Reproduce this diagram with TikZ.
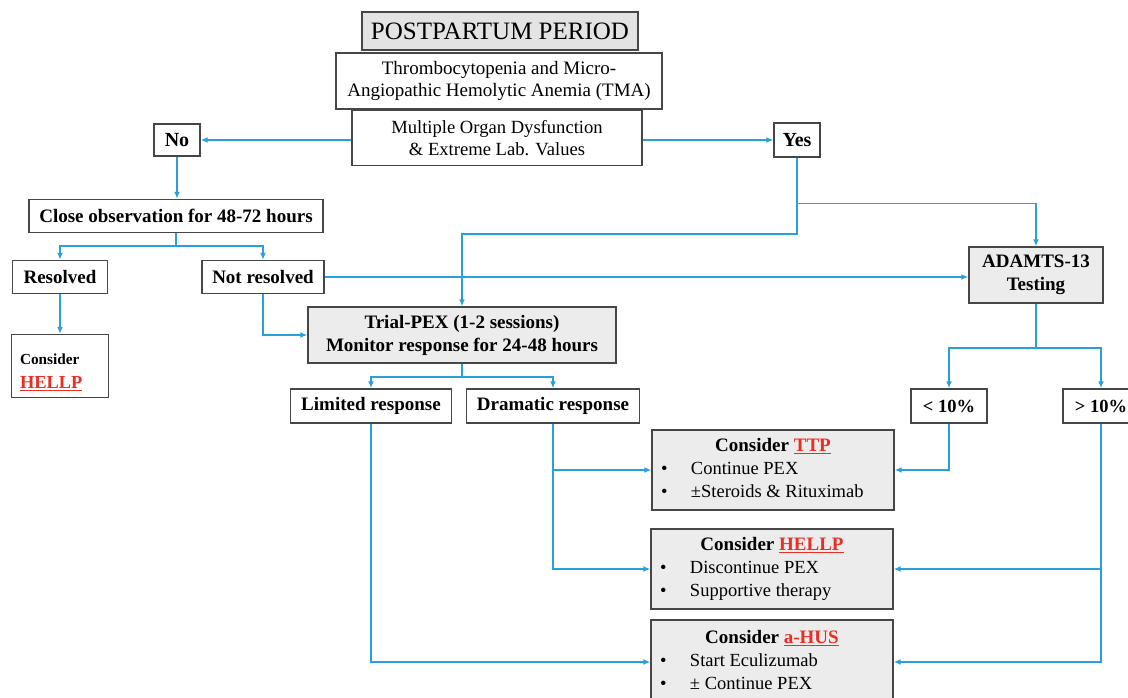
\documentclass[tikz,border=0pt]{standalone}
\usepackage{fontspec}
\setmainfont{Liberation Serif}
\usetikzlibrary{calc, arrows.meta}
\definecolor{flowblue}{RGB}{40,160,220}
\definecolor{hlred}{RGB}{235,45,35}
\definecolor{boxgray}{RGB}{236,236,236}
\definecolor{edgegray}{RGB}{70,70,70}
\newcommand{\redtag}[1]{\textcolor{hlred}{\underline{#1}}}
\newcommand{\consider}[3]{\begin{tabular}{@{}p{30pt}@{}p{194pt}@{}}
\multicolumn{2}{@{}c@{}}{\bfseries\fontsize{19}{23}\selectfont Consider \redtag{#1}}\\
\textbullet & #2\\
\textbullet & #3
\end{tabular}}
\tikzset{
  box/.style={draw=edgegray, line width=1.4pt, fill=white, inner sep=2pt, align=center, font=\fontsize{19}{23}\selectfont\bfseries},
  graybox/.style={box, fill=boxgray},
  outcome/.style={graybox, minimum width=242, minimum height=80, inner sep=0pt, font=\fontsize{18.5}{23}\selectfont},
  conn/.style={draw=flowblue, line width=1.6pt},
  arr/.style={conn, -{Latex[length=7pt,width=6pt]}}
}
\begin{document}
\begin{tikzpicture}[x=1pt,y=-1pt]
\useasboundingbox (0,0) rectangle (1128,698);
\clip (0,0) rectangle (1128,698);
\node[graybox, fill=gray!22, minimum width=276, minimum height=38, font=\fontsize{25}{28}\selectfont] (post) at (500,31) {POSTPARTUM PERIOD};
\node[box, minimum width=326, minimum height=56, font=\fontsize{19}{22.5}\selectfont] (tma) at (499,81) {Thrombocytopenia and Micro-\\Angiopathic Hemolytic Anemia (TMA)};
\node[box, minimum width=290, minimum height=55, font=\fontsize{18.6}{22}\selectfont] (mods) at (497,138) {Multiple Organ Dysfunction\\\& Extreme Lab. Values};
\node[box, minimum width=46, minimum height=32, font=\fontsize{20}{23}\selectfont\bfseries] (no) at (177,140) {No};
\node[box, minimum width=46, minimum height=34, font=\fontsize{20}{23}\selectfont\bfseries] (yes) at (797,140) {Yes};
\node[box, minimum width=294, minimum height=33] (close) at (176,216) {Close observation for 48-72 hours};
\node[box, minimum width=95, minimum height=33] (res) at (60,277) {Resolved};
\node[box, minimum width=122, minimum height=33] (nres) at (263,277) {Not resolved};
\node[box, minimum width=97, minimum height=63, align=left, text width=80, font=\fontsize{18.4}{24}\selectfont\bfseries] (hellpa) at (60,366) {\rule{0pt}{23pt}{\fontsize{15.3}{18}\selectfont Consider}\\\redtag{HELLP}};
\node[graybox, minimum width=308, minimum height=56] (pex) at (462,335) {Trial-PEX (1-2 sessions)\\Monitor response for 24-48 hours};
\node[box, minimum width=161, minimum height=34] (lim) at (371,406) {Limited response};
\node[box, minimum width=173, minimum height=34] (dram) at (553,406) {Dramatic response};
\node[graybox, minimum width=134, minimum height=56] (adamts) at (1036,275) {ADAMTS-13\\Testing};
\node[box, minimum width=76, minimum height=34, font=\fontsize{18.5}{22}\selectfont\bfseries] (low) at (949,406) {< 10\%};
\node[box, minimum width=76, minimum height=34, font=\fontsize{18.5}{22}\selectfont\bfseries] (high) at (1101,406) {> 10\%};
\node[outcome] (ttp) at (773,470) {\consider{TTP}{Continue PEX}{\textpm Steroids \& Rituximab}};
\node[outcome] (hellpb) at (772,569) {\consider{HELLP}{Discontinue PEX}{Supportive therapy}};
\node[outcome, minimum height=84] (ahus) at (772,662) {\consider{a-HUS}{Start Eculizumab}{\textpm\ Continue PEX}};
\draw[arr] (mods.west |- no.east) -- (no.east);
\draw[arr] (mods.east |- yes.west) -- (yes.west);
\draw[arr] (no.south) -- (no.south |- close.north);
\draw[conn] (close.south) -- ++(0,13) coordinate (c1);
\draw[arr] (c1) -| (res.north);
\draw[arr] (c1) -| (nres.north);
\draw[arr] (res.south) -- (res.south |- hellpa.north);
\draw[arr] (nres.south) |- (pex.west);
\draw[arr] (nres.east) -- (nres.east -| adamts.west);
\draw[conn] (yes.south) -- ++(0,46) coordinate (y1);
\draw[arr] (y1) -| (adamts.north);
\draw[arr] (y1) -- ++(0,30) -| (pex.north);
\draw[conn] (pex.south) -- ++(0,13) coordinate (p1);
\draw[arr] (p1) -| (lim.north);
\draw[arr] (p1) -| (dram.north);
\draw[conn] (adamts.south) -- ++(0,44) coordinate (a1);
\draw[arr] (a1) -| (low.north);
\draw[arr] (a1) -| (high.north);
\draw[arr] (low.south) |- (ttp.east);
\draw[arr] (high.south) |- (hellpb.east);
\draw[arr] (high.south) |- (ahus.east);
\draw[arr] (dram.south) |- (ttp.west);
\draw[arr] (dram.south) |- (hellpb.west);
\draw[arr] (lim.south) |- (ahus.west);
\end{tikzpicture}
\end{document}
